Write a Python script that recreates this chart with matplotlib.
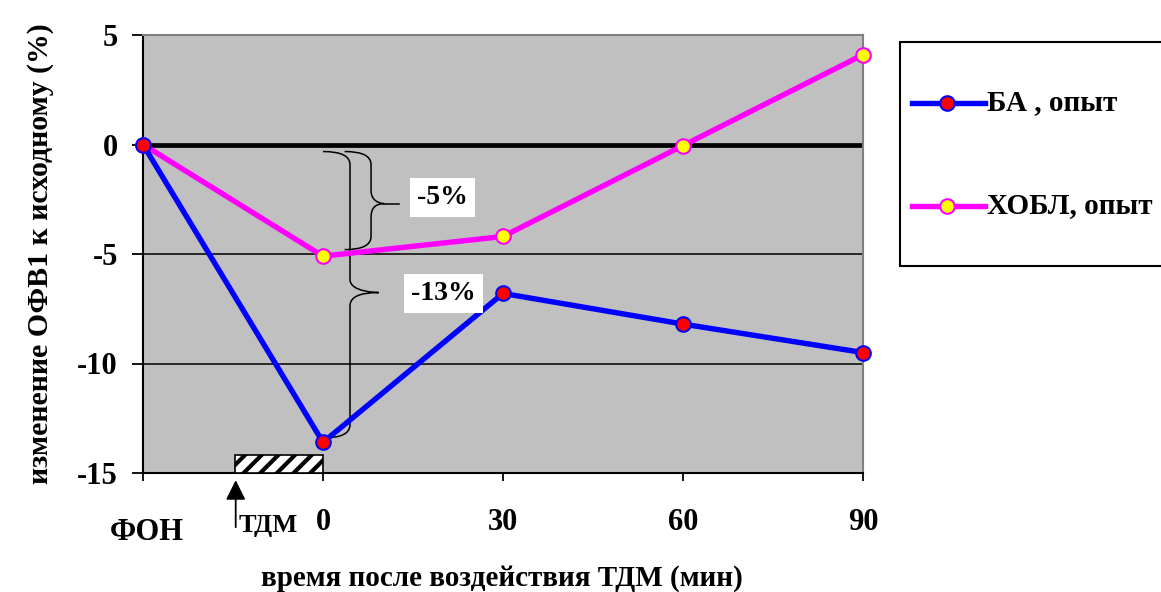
import matplotlib
matplotlib.use("Agg")
import matplotlib.pyplot as plt
from matplotlib.path import Path
from matplotlib.patches import PathPatch, Rectangle
from matplotlib.lines import Line2D

plt.rcParams['font.family'] = ['Liberation Serif', 'DejaVu Serif']
plt.rcParams['font.weight'] = 'bold'
plt.rcParams['hatch.linewidth'] = 3.0

# Time points: baseline (ФОН) and minutes after the ТДМ exposure
time_labels = ["ФОН", "0", "30", "60", "90"]
positions = [0, 1, 2, 3, 4]
ba_values = [0.0, -13.6, -6.8, -8.2, -9.5]
copd_values = [0.0, -5.1, -4.2, -0.05, 4.1]
series_names = ["БА , опыт", "ХОБЛ, опыт"]
y_ticks = [5, 0, -5, -10, -15]
drop_labels = ["-5%", "-13%"]

fig = plt.figure(figsize=(11.61, 5.92), dpi=100)
ax = fig.add_axes([143 / 1161, 1 - 473 / 592, 720 / 1161, 438 / 592])
ax.set_facecolor("#c0c0c0")
ax.set_xlim(0, 4)
ax.set_ylim(-15, 5)

# horizontal grid and bold zero line
for yv in (-5, -10):
    ax.axhline(yv, color="black", lw=1.1, zorder=1)
ax.plot([0, 3.995], [0, 0], color="black", lw=3.4, zorder=2, solid_capstyle="butt")

# series
ax.plot(positions, ba_values, color="#0000ff", lw=3.9, marker="o", ms=10.5,
        mfc="#ff0000", mec="#0000ff", mew=1.5, zorder=5, clip_on=False)
ax.plot(positions, copd_values, color="#ff00ff", lw=3.9, marker="o", ms=10.5,
        mfc="#ffff00", mec="#ff00ff", mew=1.5, zorder=4, clip_on=False)

# spines
for s in ("top", "right"):
    ax.spines[s].set_color("#808080")
    ax.spines[s].set_linewidth(1.5)
for s in ("left", "bottom"):
    ax.spines[s].set_color("black")
    ax.spines[s].set_linewidth(1.5)

ax.set_yticks(y_ticks)
ax.set_yticklabels([str(v) for v in y_ticks], fontsize=22, fontweight="bold")
ax.set_xticks(positions)
ax.set_xticklabels([""] + time_labels[1:], fontsize=22, fontweight="bold")
ax.tick_params(axis="y", direction="out", length=8, width=1.3, pad=10)
ax.tick_params(axis="x", direction="out", length=6, width=1.3, pad=19)
ax.text(0.02, -17.7, time_labels[0], fontsize=22, fontweight="bold",
        ha="center", va="center", clip_on=False)

ax.set_ylabel("изменение ОФВ1 к исходному (%)", fontsize=21.5, fontweight="bold", labelpad=17)
fig.text(502 / 1161, 1 - 578 / 592, "время после воздействия ТДМ (мин)",
         fontsize=21, fontweight="bold", ha="center", va="center")

# exposure bar (hatched) and arrow
ax.add_patch(Rectangle((0.51, -15), 0.49, 0.8, facecolor="white", edgecolor="black",
                       hatch="//", lw=1.2, zorder=3, clip_on=False))
ax.annotate("", xy=(0.515, -15.2), xytext=(0.515, -17.6),
            arrowprops=dict(arrowstyle="-|>", color="black", lw=1.3, mutation_scale=30),
            annotation_clip=False)
ax.text(0.53, -17.4, "ТДМ", fontsize=19, fontweight="bold", ha="left", va="center",
        clip_on=False)


def brace(x0, x1, xt, y_top, y_bot, y_mid, tail=None):
    d = 0.6
    verts = [(x0, y_top), (x1, y_top), (x1, y_top - d),
             (x1, y_mid + d),
             (x1, y_mid), (xt, y_mid), (xt, y_mid),
             (x1, y_mid), (x1, y_mid - d),
             (x1, y_bot + d),
             (x1, y_bot), (x0, y_bot), (x0, y_bot)]
    codes = [Path.MOVETO, Path.CURVE3, Path.CURVE3,
             Path.LINETO,
             Path.CURVE4, Path.CURVE4, Path.CURVE4,
             Path.CURVE3, Path.CURVE3,
             Path.LINETO,
             Path.CURVE3, Path.CURVE3, Path.LINETO]
    ax.add_patch(PathPatch(Path(verts, codes), fill=False, edgecolor="black", lw=1.1, zorder=3))
    if tail is not None:
        ax.plot([xt, tail], [y_mid, y_mid], color="black", lw=1.1, zorder=3)


brace(1.0, 1.15, 1.31, -0.32, -13.4, -6.76)
brace(1.12, 1.267, 1.34, -0.32, -4.8, -2.7, tail=1.42)

box = dict(facecolor="white", edgecolor="none", boxstyle="square,pad=0.25")
ax.text(1.665, -2.4, drop_labels[0], fontsize=20, fontweight="bold", ha="center",
        va="center", bbox=box, zorder=6)
ax.text(1.67, -6.8, drop_labels[1], fontsize=20, fontweight="bold", ha="center",
        va="center", bbox=box, zorder=6)

# legend panel
fig.patches.append(Rectangle((900 / 1161, 1 - 266 / 592), 300 / 1161, 224 / 592,
                             transform=fig.transFigure, facecolor="white",
                             edgecolor="black", lw=1.5))
legend_rows = [(103, "#0000ff", "#ff0000"), (206, "#ff00ff", "#ffff00")]
for (py, lc, fc), name in zip(legend_rows, series_names):
    yf = 1 - py / 592
    fig.add_artist(Line2D([912 / 1161, 985 / 1161], [yf, yf], color=lc, lw=3.9,
                          transform=fig.transFigure))
    fig.add_artist(Line2D([947 / 1161], [yf], marker="o", ms=10.5, mfc=fc, mec=lc, mew=1.5,
                          transform=fig.transFigure))
    fig.text(987 / 1161, yf, name, fontsize=21, fontweight="bold", ha="left", va="center")

fig.savefig("out.png", dpi=100)
